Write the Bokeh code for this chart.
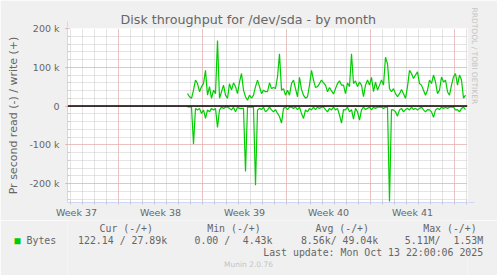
import pandas as pd
from bokeh.plotting import figure
from bokeh.layouts import column
from bokeh.models import Range1d, FixedTicker, Span, Title, ColumnDataSource, Arrow, NormalHead
from bokeh.core.properties import value
from bokeh.embed import file_html
from bokeh.resources import INLINE

# ---------------- data ----------------
title_text = "Disk throughput for /dev/sda - by month"
y_title = "Pr second read (-) / write (+)"
week_labels = ["Week 37", "Week 38", "Week 39", "Week 40", "Week 41"]
week_centers = ["2025-09-11 12:00", "2025-09-18 12:00", "2025-09-25 12:00",
                "2025-10-02 12:00", "2025-10-09 12:00"]
week_starts = ["2025-09-15", "2025-09-22", "2025-09-29", "2025-10-06", "2025-10-13"]
y_ticks = [-200000, -100000, 0, 100000, 200000]
y_tick_labels = ["-200 k", "-100 k", "0", "100 k", "200 k"]

series_start = "2025-09-20 18:00"
series_step = "4h"
# write (+) bytes/s in thousands
write_k = [32, 24, 20, 41, 67, 58, 37, 50, 58, 92, 28, 50, 20, 41, 32, 169, 20, 37, 54, 28,
           20, 58, 41, 60, 50, 32, 62, 84, 41, 24, 15, 28, 20, 28, 50,
           67, 50, 32, 41, 37, 37, 60, 45, 48, 45, 75, 135, 41, 45, 28, 41, 28, 58, 67, 45,
           24, 74, 43, 28, 20, 24, 54, 92, 67, 48, 50, 58, 67, 60,
           54, 37, 48, 39, 31, 45, 58, 65, 54, 54, 32, 60, 50, 135, 58, 65, 50, 62, 54, 24,
           54, 67, 54, 74, 37, 62, 41, 54, 67, 54, 126, 109, 45, 37,
           45, 32, 24, 32, 43, 32, 20, 50, 92, 84, 71, 80, 88, 58, 54, 41, 28, 41, 67, 58,
           80, 62, 32, 41, 75, 62, 67, 37, 28, 54, 75, 84, 54, 80, 67, 20, 28]
# read (-) bytes/s in thousands (plotted below zero)
read_k = [2, 2, 3, 98, 6, 10, 6, 19, 10, 32, 10, 15, 6, 10, 6, 55, 10, 3, 6, 3,
          3, 6, 10, 3, 15, 3, 6, 6, 6, 169, 3, 3, 3, 3, 204,
          10, 6, 9, 3, 15, 10, 3, 10, 15, 9, 19, 27, 44, 6, 3, 9, 3, 3, 6, 3,
          9, 3, 19, 32, 10, 15, 6, 10, 3, 9, 3, 6, 3, 3,
          9, 15, 6, 10, 3, 10, 6, 23, 44, 9, 10, 3, 15, 9, 34, 6, 15, 36, 10, 3,
          9, 6, 3, 10, 3, 6, 3, 2, 3, 6, 3, 3, 246, 9,
          10, 15, 26, 10, 6, 15, 9, 6, 10, 3, 9, 6, 10, 6, 3, 10, 15, 9, 10, 15,
          29, 10, 6, 9, 3, 6, 3, 6, 3, 3, 3, 10, 9, 15, 6, 3, 9]

legend_name = "Bytes"
legend_headers = ["Cur (-/+)", "Min (-/+)", "Avg (-/+)", "Max (-/+)"]
legend_values_left = ["0.00 /", "5.11M/"]
legend_values_right = ["122.14 / 27.89k", "4.43k", "8.56k/ 49.04k", "1.53M"]
last_update = "Last update: Mon Oct 13 22:00:06 2025"
version_text = "Munin 2.0.76"
watermark = "RRDTOOL / TOBI OETIKER"

# ---------------- helpers ----------------
ref = pd.Timestamp("2025-09-01")
def day(ts):
    return (pd.Timestamp(ts) - ref) / pd.Timedelta("1D")

times = pd.date_range(series_start, periods=len(write_k), freq=series_step)
xs = [(t - ref) / pd.Timedelta("1D") for t in times]
w = [v * 1000 for v in write_k]
r = [-v * 1000 for v in read_k]

W = 497
H1, H2 = 220, 55
FL, FT, FW, FH = 67, 28, 400, 175
x_lo = day("2025-09-10 18:00")
x_hi = x_lo + FW / 12.0
y_hi = 200000
y_lo = y_hi - FH * 100000 / 39.0

FONT = "DejaVu Sans"
MONO = "DejaVu Sans Mono"
TXT = "#666666"
AXIS_C = "#CFD6F8"
BG = "#F0F0F0"
GREEN = "#00CC00"

p = figure(width=W, height=H1, output_backend="svg", toolbar_location=None,
           x_range=Range1d(x_lo, x_hi), y_range=Range1d(y_lo, y_hi),
           min_border_left=FL, min_border_right=W - FL - FW,
           min_border_top=FT, min_border_bottom=H1 - FT - FH)
p.border_fill_color = BG
p.background_fill_color = "#FFFFFF"
p.outline_line_color = None

p.title = Title(text=title_text, align="left", offset=53, standoff=3,
                text_font=FONT, text_font_size="12.7px", text_font_style="normal",
                text_color=TXT)
p.add_layout(Title(text=watermark, align="left", offset=-21, standoff=4,
                   text_font=FONT, text_font_size="7.5px", text_font_style="normal",
                   text_color="#C4C4C4"), "right")

days = list(range(10, 44))
p.xgrid.ticker = FixedTicker(ticks=[day(d) for d in week_starts], minor_ticks=days)
p.ygrid.ticker = FixedTicker(ticks=y_ticks, minor_ticks=list(range(-240000, 200001, 20000)))
for g in (p.xgrid, p.ygrid):
    g.grid_line_color = "#F0A0A0"
    g.grid_line_dash = "1 1"
    g.grid_line_width = 1
    g.minor_grid_line_color = "#C8C8C8"
    g.minor_grid_line_dash = "1 1"
    g.minor_grid_line_width = 1

wc = [day(d) for d in week_centers]
p.xaxis.ticker = FixedTicker(ticks=wc, minor_ticks=days)
p.xaxis.major_label_overrides = {k: v for k, v in zip(wc, week_labels)}
p.xaxis.major_tick_in = 0
p.xaxis.major_tick_out = 0
p.xaxis.minor_tick_in = 2
p.xaxis.minor_tick_out = 2
p.xaxis.minor_tick_line_color = "#C8C8C8"
p.xaxis.major_label_standoff = 2

p.yaxis.ticker = FixedTicker(ticks=y_ticks, minor_ticks=list(range(-240000, 200001, 20000)))
p.yaxis.major_label_overrides = {k: v for k, v in zip(y_ticks, y_tick_labels)}
p.yaxis.major_tick_in = 2
p.yaxis.major_tick_out = 2
p.yaxis.major_tick_line_color = "#F0A0A0"
p.yaxis.minor_tick_in = 2
p.yaxis.minor_tick_out = 0
p.yaxis.minor_tick_line_color = "#C8C8C8"
p.yaxis.major_label_standoff = 6
p.yaxis.axis_label = y_title
p.yaxis.axis_label_text_font = FONT
p.yaxis.axis_label_text_font_size = "11px"
p.yaxis.axis_label_text_font_style = "normal"
p.yaxis.axis_label_text_color = TXT
p.yaxis.axis_label_standoff = 6

for ax in (p.xaxis, p.yaxis):
    ax.axis_line_color = AXIS_C
    ax.major_label_text_font = FONT
    ax.major_label_text_font_size = "9.5px"
    ax.major_label_text_color = TXT

p.line(xs, w, line_color=GREEN, line_width=1.2)
p.line(xs, r, line_color=GREEN, line_width=1.2)
p.add_layout(Span(location=0, dimension="width", line_color="#000000", line_width=1.5))

# axis arrows (overlay level so they may extend past the frame)
px_per_x = FW / (x_hi - x_lo)
px_per_y = FH / (y_hi - y_lo)
p.add_layout(Arrow(end=NormalHead(size=6, fill_color=AXIS_C, line_color=AXIS_C),
                   x_start=x_lo, y_start=y_lo, x_end=x_lo, y_end=y_hi + 7 / px_per_y,
                   line_color=AXIS_C, line_width=1, level="overlay"))
p.add_layout(Arrow(end=NormalHead(size=6, fill_color=AXIS_C, line_color=AXIS_C),
                   x_start=x_lo, y_start=y_lo, x_end=x_hi + 7 / px_per_x, y_end=y_lo,
                   line_color=AXIS_C, line_width=1, level="overlay"))

# ---------------- legend strip ----------------
# this strip's frame lines up with the chart frame (x: 67..467 px)
q = figure(width=W, height=H2, output_backend="svg", toolbar_location=None,
           x_range=Range1d(FL, FL + FW), y_range=Range1d(H1 + H2, H1),
           x_axis_location=None, y_axis_location=None, min_border=0)
q.border_fill_color = BG
q.background_fill_color = BG
q.outline_line_color = None
q.grid.visible = False

left_src = ColumnDataSource(dict(
    x=[99, 206.7, 315, 422.7, 26, 194, 404.3],
    y=[227.5] * 4 + [239.7] * 3,
    t=legend_headers + [legend_name] + legend_values_left))
q.text(x="x", y="y", text="t", source=left_src, text_font=value(MONO),
       text_font_size="9.9px", text_color=TXT, text_align="left", text_baseline="middle",
       level="overlay")

right_src = ColumnDataSource(dict(
    x=[166.7, 272, 377.7, 482.7, 482.7],
    y=[239.7] * 4 + [251.7],
    t=legend_values_right + [last_update]))
q.text(x="x", y="y", text="t", source=right_src, text_font=value(MONO),
       text_font_size="9.9px", text_color=TXT, text_align="right", text_baseline="middle",
       level="overlay")

q.text(x=[248], y=[264], text=[version_text], text_font=value(FONT),
       text_font_size="7.5px", text_color="#C4C4C4", text_align="center",
       text_baseline="middle", level="overlay")
# legend colour swatch
q.text(x=[17], y=[240], text=["\u25A0"], text_font=value(MONO),
       text_font_size="10px", text_color=GREEN, text_align="center",
       text_baseline="middle", level="overlay")

layout = column(p, q, spacing=0)
open("out.html", "w").write(file_html(layout, INLINE))
